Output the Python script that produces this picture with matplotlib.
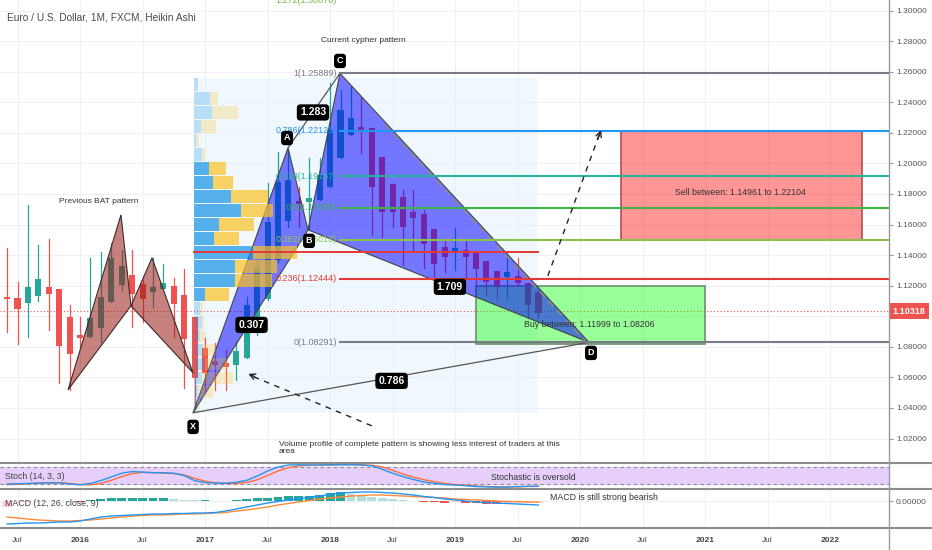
import numpy as np
import matplotlib.pyplot as plt
from matplotlib.patches import Polygon, Rectangle
from matplotlib.lines import Line2D
from matplotlib.transforms import blended_transform_factory

plt.rcParams['font.family'] = ['Liberation Sans', 'DejaVu Sans']

# month index, 0 = Jan 2016 (first bar Jun 2015, last bar Sep 2019)
months = np.arange(-7, 45)

ha_open = [1.1127, 1.1120, 1.1087, 1.1133, 1.1192, 1.1179, 1.0996, 1.0878, 1.0865, 1.0924,
           1.1094, 1.1205, 1.1271, 1.1212, 1.1159, 1.1179, 1.1199, 1.1140, 1.0996, 1.0793,
           1.0708, 1.0695, 1.0682, 1.0728, 1.0901, 1.1112, 1.1365, 1.1622, 1.1757, 1.1746,
           1.1761, 1.1846, 1.2036, 1.2186, 1.2238, 1.2232, 1.2042, 1.1866, 1.1781, 1.1682,
           1.1669, 1.1571, 1.1454, 1.1421, 1.1434, 1.1414, 1.1362, 1.1297, 1.1257, 1.1264,
           1.1218, 1.1159]
ha_high = [1.1447, 1.1225, 1.1728, 1.1467, 1.1506, 1.1179, 1.1074, 1.0996, 1.1382, 1.1421,
           1.1480, 1.1434, 1.1434, 1.1238, 1.1382, 1.1342, 1.1251, 1.1310, 1.0996, 1.0858,
           1.0826, 1.0780, 1.0832, 1.1127, 1.1369, 1.1872, 1.2075, 1.2088, 1.1846, 1.2036,
           1.2036, 1.2526, 1.2480, 1.2500, 1.2428, 1.2232, 1.2042, 1.1866, 1.1826, 1.1826,
           1.1696, 1.1571, 1.1499, 1.1578, 1.1499, 1.1414, 1.1362, 1.1297, 1.1414, 1.1382,
           1.1218, 1.1172]
ha_low = [1.0898, 1.0819, 1.0865, 1.1100, 1.0911, 1.0564, 1.0518, 1.0800, 1.0865, 1.0832,
          1.1094, 1.1172, 1.0930, 1.0963, 1.1061, 1.1179, 1.0865, 1.0531, 1.0400, 1.0499,
          1.0518, 1.0518, 1.0584, 1.0728, 1.0878, 1.1107, 1.1355, 1.1584, 1.1584, 1.1565,
          1.1761, 1.1846, 1.2036, 1.2186, 1.2068, 1.1532, 1.1519, 1.1584, 1.1336, 1.1430,
          1.1316, 1.1251, 1.1290, 1.1303, 1.1257, 1.1192, 1.1140, 1.1120, 1.1120, 1.1205,
          1.0989, 1.0989]
ha_close = [1.1114, 1.1048, 1.1192, 1.1244, 1.1146, 1.0806, 1.0754, 1.0858, 1.0989, 1.1127,
            1.1382, 1.1329, 1.1146, 1.1114, 1.1192, 1.1218, 1.1081, 1.0852, 1.0597, 1.0630,
            1.0682, 1.0669, 1.0773, 1.1074, 1.1323, 1.1617, 1.1879, 1.1892, 1.1735, 1.1774,
            1.1925, 1.2219, 1.2350, 1.2297, 1.2219, 1.1846, 1.1682, 1.1682, 1.1584, 1.1643,
            1.1473, 1.1342, 1.1388, 1.1447, 1.1388, 1.1310, 1.1225, 1.1192, 1.1290, 1.1218,
            1.1074, 1.1022]

stoch_k = [20, 21, 22, 23, 24, 24, 20, 17, 22, 32, 45, 58, 64, 62, 60, 60, 58, 50, 32, 25,
           23, 23, 26, 33, 48, 66, 80, 87, 88, 87, 87, 88, 88, 88, 87, 84, 72, 58, 46, 36,
           27, 22, 18, 16, 14, 11, 10, 9, 9, 11, 12, 12]
stoch_d = [18, 19, 21, 23, 24, 25, 22, 18, 17, 22, 33, 46, 57, 61, 60, 58, 57, 52, 40, 30,
           24, 22, 22, 26, 35, 50, 66, 78, 84, 86, 87, 87, 88, 88, 88, 86, 80, 68, 55, 44,
           35, 28, 22, 18, 16, 13, 11, 10, 10, 10, 11, 12]

macd_line = [-0.046, -0.045, -0.044, -0.044, -0.043, -0.042, -0.042, -0.040, -0.036, -0.032,
             -0.030, -0.029, -0.028, -0.027, -0.026, -0.026, -0.025, -0.025, -0.024, -0.024,
             -0.023, -0.020, -0.016, -0.012, -0.008, -0.004, -0.001, 0.002, 0.005, 0.007,
             0.010, 0.013, 0.016, 0.017, 0.018, 0.018, 0.017, 0.016, 0.014, 0.012,
             0.009, 0.007, 0.004, 0.002, 0.000, -0.002, -0.003, -0.004, -0.005, -0.006,
             -0.007, -0.008]
macd_signal = [-0.032, -0.034, -0.036, -0.038, -0.039, -0.040, -0.040, -0.039, -0.038, -0.036,
               -0.034, -0.032, -0.030, -0.029, -0.028, -0.028, -0.027, -0.026, -0.026, -0.025,
               -0.024, -0.023, -0.020, -0.018, -0.015, -0.012, -0.008, -0.005, -0.002, 0.001,
               0.004, 0.006, 0.008, 0.010, 0.011, 0.012, 0.012, 0.011, 0.010, 0.009,
               0.008, 0.007, 0.006, 0.004, 0.003, 0.002, 0.001, 0.000, -0.001, -0.001,
               -0.002, -0.002]
macd_hist = [-0.012, -0.002, -0.001, 0.000, 0.000, 0.000, 0.000, -0.001, 0.002, 0.004,
             0.006, 0.006, 0.006, 0.006, 0.006, 0.006, 0.004, 0.003, 0.002, 0.002,
             0.001, 0.001, 0.003, 0.004, 0.006, 0.007, 0.009, 0.010, 0.010, 0.011,
             0.012, 0.016, 0.018, 0.014, 0.012, 0.009, 0.007, 0.004, 0.002, 0.001,
             -0.001, -0.002, -0.003, -0.002, -0.003, -0.004, -0.005, -0.006, -0.005, -0.004,
             -0.004, -0.003]

# volume profile of the X..C range, rows from top to bottom
vp_up = [4, 16, 18, 7, 2, 8, 15, 19, 37, 46, 25, 20, 58, 41, 41, 11, 6, 8, 6, 9, 11, 8, 4, 3]
vp_down = [0, 8, 25, 15, 3, 3, 17, 20, 36, 32, 34, 24, 44, 41, 36, 24, 3, 2, 5, 13, 22, 31, 15, 3]
vp_top, vp_bottom = 1.2559, 1.0368
vp_left, vp_right = 10.94, 43.95
value_rows = range(6, 16)

# cypher pattern points X A B C D  (month, price)
cy_m = [10.85, 19.96, 21.88, 24.95, 48.85]
cy_p = [1.0368, 1.2101, 1.1565, 1.25889, 1.08291]
# previous bat pattern points
bat_m = [-1.15, 3.93, 4.89, 6.91, 10.84]
bat_p = [1.0518, 1.1663, 1.1068, 1.1382, 1.0630]

fib_levels = [1, 0.786, 0.618, 0.5, 0.382, 0.236, 0]
fib_colors = ['#787b86', '#2196f3', '#26b59a', '#3cb44b', '#8bc34a', '#e53935', '#787b86']

last_price = 1.10318
x_ticks = np.arange(-6, 73, 6)
x_labels = ['Jul', '2016', 'Jul', '2017', 'Jul', '2018', 'Jul', '2019', 'Jul', '2020',
            'Jul', '2021', 'Jul', '2022']

W, H = 932, 550
fig = plt.figure(figsize=(W / 100, H / 100), dpi=100)

def px_axes(x0, y0, x1, y1):
    return fig.add_axes([x0 / W, 1 - y1 / H, (x1 - x0) / W, (y1 - y0) / H])

ax = px_axes(0, 0, 889, 462)
ax_s = px_axes(0, 464, 889, 488)
ax_m = px_axes(0, 490, 889, 527)

for a in (ax, ax_s, ax_m):
    a.set_xlim(-7.68, 77.64)
    for s in a.spines.values():
        s.set_visible(False)
    a.set_xticks(x_ticks)
    a.grid(True, color='#edf1f6', lw=0.8, zorder=0)
    a.set_axisbelow(True)

ax.set_ylim(1.00463, 1.30687)
ax.yaxis.tick_right()
ax.set_yticks(np.arange(1.02, 1.3001, 0.02))
ax.set_yticklabels([f'{v:.5f}' for v in np.arange(1.02, 1.3001, 0.02)])
ax.tick_params(axis='y', length=3, width=0.8, color='#9a9a9a', labelsize=6, labelcolor='#555555', pad=2)
ax.tick_params(axis='x', length=0, labelbottom=False)

# volume profile
ax.add_patch(Rectangle((vp_left, vp_bottom), vp_right - vp_left, vp_top - vp_bottom,
                       fc='#e3f2fd', alpha=0.5, ec='none', zorder=0.6))
row_h = (vp_top - vp_bottom) / len(vp_up)
scale = 0.3 * (vp_right - vp_left) / max(u + d for u, d in zip(vp_up, vp_down))
for i, (u, d) in enumerate(zip(vp_up, vp_down)):
    y0 = vp_top - (i + 1) * row_h + row_h * 0.04
    alpha = 0.7 if i in value_rows else 0.25
    ax.add_patch(Rectangle((vp_left, y0), u * scale, row_h * 0.92, fc='#1592e6', alpha=alpha, ec='none', zorder=4.5))
    ax.add_patch(Rectangle((vp_left + u * scale, y0), d * scale, row_h * 0.92, fc='#fbc123', alpha=alpha, ec='none', zorder=4.5))
poc = int(np.argmax(np.array(vp_up) + np.array(vp_down)))
ax.plot([vp_left, vp_right], [vp_top - (poc + 0.5) * row_h] * 2, color='#e53935', lw=1.4, zorder=5)

# heikin ashi candles
for m, o, h, l, c in zip(months, ha_open, ha_high, ha_low, ha_close):
    col = '#26a69a' if c >= o else '#ef5350'
    ax.plot([m, m], [l, h], color=col, lw=0.9, zorder=2)
    ax.add_patch(Rectangle((m - 0.29, min(o, c)), 0.58, max(abs(c - o), 0.0007), fc=col, ec='none', zorder=2))

ax.axhline(last_price, color='#ef5350', ls=(0, (1, 2)), lw=0.8, zorder=1.5)

# bat pattern
bat = list(zip(bat_m, bat_p))
for tri in (bat[0:3], bat[2:5]):
    ax.add_patch(Polygon(tri, closed=True, fc=(0.6, 0.1, 0.08, 0.55), ec='#3a2a2a', lw=0.8, zorder=4))

# cypher pattern
cy = list(zip(cy_m, cy_p))
for tri in (cy[0:3], cy[2:5]):
    ax.add_patch(Polygon(tri, closed=True, fc=(0.0, 0.0, 1.0, 0.52), ec='#444444', lw=0.8, zorder=4))
ax.plot([cy_m[0], cy_m[4]], [cy_p[0], cy_p[4]], color='#555555', lw=0.9, zorder=5)
ax.plot([cy_m[1], cy_m[3]], [cy_p[1], cy_p[3]], color='#555555', lw=0.9, zorder=5)
ax.plot([29.3, 48.5], [1.2252, 1.0839], color='#8a8a8a', lw=1.3, ls=(0, (4, 3)), zorder=5)

# boxes
ax.add_patch(Rectangle((38.0, 1.08206), 22.0, 1.11999 - 1.08206, fc=(0.0, 1.0, 0.0, 0.4),
                       ec='#6f8f6f', lw=1.2, zorder=3))
ax.text(48.9, 1.0944, 'Buy between: 1.11999 to 1.08206', fontsize=6.3, color='#333333',
        ha='center', va='center', zorder=6)
ax.add_patch(Rectangle((51.9, 1.14961), 23.15, 1.22104 - 1.14961, fc=(1.0, 0.0, 0.0, 0.41),
                       ec='#b05050', lw=1.2, zorder=3))
ax.text(63.4, 1.1807, 'Sell between: 1.14961 to 1.22104', fontsize=6.3, color='#333333',
        ha='center', va='center', zorder=6)

# fibonacci retracement D -> C
for lvl, col in zip(fib_levels, fib_colors):
    price = cy_p[4] + lvl * (cy_p[3] - cy_p[4])
    ax.plot([24.95, 77.64], [price, price], color=col, lw=1.5, zorder=5.5)
    ax.text(24.66, price, f'{lvl}({price:.5f})', color=col, fontsize=6.5, ha='right', va='center', zorder=6)
ext = cy_p[4] + 1.272 * (cy_p[3] - cy_p[4])
ax.text(24.66, ext, f'1.272({ext:.5f})', color='#7cb342', fontsize=6.5, ha='right', va='center', zorder=6)

# dashed arrows
ax.plot([44.9, 50.0], [1.1264, 1.2220], color='#222222', lw=1, ls=(0, (4, 4)), zorder=6)
ax.annotate('', xy=(50.1, 1.2235), xytext=(49.6, 1.2140),
            arrowprops=dict(arrowstyle='->', color='#222222', lw=1), zorder=6)
ax.plot([28.0, 16.2], [1.0283, 1.0617], color='#222222', lw=1, ls=(0, (4, 4)), zorder=6)
ax.annotate('', xy=(15.9, 1.0630), xytext=(17.0, 1.0598),
            arrowprops=dict(arrowstyle='->', color='#222222', lw=1), zorder=6)

def tag(x, y, s, size=6.5):
    ax.text(x, y, s, color='white', fontsize=size, fontweight='bold', ha='center', va='center', zorder=9,
            bbox=dict(boxstyle='round,pad=0.3,rounding_size=0.35', fc='black', ec='none'))

tag(24.95, 1.2670, 'C')
tag(19.87, 1.2166, 'A')
tag(21.98, 1.1493, 'B')
tag(49.04, 1.0760, 'D')
tag(10.85, 1.0276, 'X')
tag(22.36, 1.2333, '1.283', 7.5)
tag(16.46, 1.0943, '0.307', 7.5)
tag(35.5, 1.1192, '1.709', 7.5)
tag(29.9, 1.0577, '0.786', 7.5)

ax.text(27.2, 1.2807, 'Current cypher pattern', fontsize=6, color='#333333', ha='center', va='center', zorder=6)
ax.text(1.8, 1.1748, 'Previous BAT pattern', fontsize=6, color='#333333', ha='center', va='center', zorder=6)
ax.text(19.1, 1.0185, 'Volume profile of complete pattern is showing less interest of traders at this\narea',
        fontsize=6, color='#333333', ha='left', va='top', linespacing=1.05, zorder=6)
ax.text(0.0075, 0.963, 'Euro / U.S. Dollar, 1M, FXCM, Heikin Ashi', transform=ax.transAxes,
        fontsize=7.3, color='#4a4a4a', ha='left', va='center')

tr = blended_transform_factory(ax.transAxes, ax.transData)
ax.text(1.004, last_price, f'{last_price:.5f}', transform=tr, color='white', fontsize=6.5, fontweight='bold',
        ha='left', va='center', clip_on=False, zorder=10,
        bbox=dict(boxstyle='square,pad=0.4', fc='#ef5350', ec='none'))

# stochastic panel
ax_s.set_ylim(5.9, 90.6)
ax_s.axhspan(20, 80, color='#e6cffa', zorder=0.8)
ax_s.axhline(80, color='#8a8a8a', lw=0.8, ls=(0, (3, 3)), zorder=1)
ax_s.axhline(20, color='#8a8a8a', lw=0.8, ls=(0, (3, 3)), zorder=1)
ax_s.plot(months, stoch_k, color='#2196f3', lw=1, zorder=3)
ax_s.plot(months, stoch_d, color='#ff6d3a', lw=1, zorder=2)
ax_s.tick_params(axis='both', length=0, labelbottom=False, labelleft=False)
ax_s.set_yticks([])
ax_s.text(0.006, 0.46, 'Stoch (14, 3, 3)', transform=ax_s.transAxes, fontsize=6.3, color='#444444',
          ha='left', va='center')
ax_s.text(43.5, 44.7, 'Stochastic is oversold', fontsize=6.3, color='#333333', ha='center', va='center')

# macd panel
ax_m.set_ylim(-0.052, 0.022)
hist_colors = []
for i, v in enumerate(macd_hist):
    prev = macd_hist[i - 1] if i > 0 else v
    if v >= 0:
        hist_colors.append('#26a69a' if v >= prev else '#b2dfdb')
    else:
        hist_colors.append('#ef5350' if v < prev else '#ffcdd2')
ax_m.bar(months, macd_hist, width=0.85, color=hist_colors, zorder=1)
ax_m.plot(months, macd_line, color='#2196f3', lw=1, zorder=3)
ax_m.plot(months, macd_signal, color='#ff8a3a', lw=1, zorder=2)
ax_m.yaxis.tick_right()
ax_m.set_yticks([0.0])
ax_m.set_yticklabels(['0.00000'])
ax_m.tick_params(axis='y', length=3, width=0.8, color='#9a9a9a', labelsize=6, labelcolor='#555555', pad=2)
ax_m.set_xticklabels(x_labels)
ax_m.tick_params(axis='x', length=0, labelsize=6, labelcolor='#444444', pad=7)
for lab in ax_m.get_xticklabels():
    if lab.get_text() != 'Jul':
        lab.set_fontweight('bold')
ax_m.text(0.006, 0.64, 'MACD (12, 26, close, 9)', transform=ax_m.transAxes, fontsize=6.3, color='#444444',
          ha='left', va='center')
ax_m.text(45.1, 0.008, 'MACD is still strong bearish', fontsize=6.3, color='#333333', ha='left', va='center')

# panel separators and price scale border
for yy in (463, 489, 528):
    fig.add_artist(Line2D([0, 1], [1 - yy / H] * 2, color='#8c8c8c', lw=1.5))
fig.add_artist(Line2D([889 / W] * 2, [0, 1], color='#9a9a9a', lw=1))

fig.savefig('out.png', dpi=100)
